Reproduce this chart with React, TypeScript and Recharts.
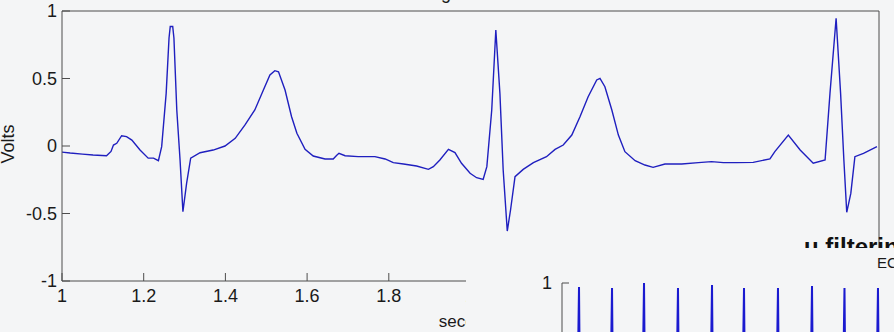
import React from 'react';
import { LineChart, Line, XAxis, YAxis } from 'recharts';

// ECG trace (seconds, volts)
const ecgTime = [
  1.0, 1.02, 1.05, 1.076, 1.109, 1.12, 1.126, 1.134, 1.146, 1.158, 1.171, 1.191, 1.211, 1.224, 1.236,
  1.244, 1.255, 1.262, 1.265, 1.271, 1.274, 1.281, 1.289, 1.296, 1.305, 1.315, 1.338, 1.37, 1.399,
  1.424, 1.448, 1.472, 1.493, 1.509, 1.521, 1.53, 1.546, 1.562, 1.575, 1.595, 1.615, 1.644, 1.664,
  1.672, 1.678, 1.693, 1.725, 1.766, 1.791, 1.811, 1.836, 1.868, 1.897, 1.909, 1.925, 1.946, 1.962,
  1.978, 1.999, 2.015, 2.031, 2.04, 2.052, 2.062, 2.072, 2.08, 2.09, 2.098, 2.109, 2.129, 2.154,
  2.186, 2.207, 2.227, 2.248, 2.268, 2.288, 2.309, 2.317, 2.329, 2.346, 2.362, 2.378, 2.403, 2.427,
  2.447, 2.476, 2.517, 2.558, 2.59, 2.619, 2.652, 2.692, 2.733, 2.745, 2.778, 2.807, 2.839, 2.868,
  2.88, 2.895, 2.906, 2.914, 2.921, 2.931, 2.941, 2.962, 2.995,
];
const ecgVolts = [
  -0.045, -0.052, -0.06, -0.067, -0.072, -0.04, 0.007, 0.02, 0.076, 0.069, 0.044, -0.03, -0.09, -0.09, -0.109,
  -0.005, 0.39, 0.8, 0.885, 0.885, 0.8, 0.267, -0.104, -0.487, -0.277, -0.09, -0.05, -0.03, 0.0,
  0.057, 0.156, 0.267, 0.415, 0.526, 0.558, 0.55, 0.415, 0.217, 0.094, -0.025, -0.074, -0.096, -0.096,
  -0.07, -0.054, -0.072, -0.079, -0.079, -0.096, -0.123, -0.133, -0.148, -0.173, -0.153, -0.104, -0.025, -0.049,
  -0.128, -0.202, -0.235, -0.247, -0.153, 0.267, 0.859, 0.39, -0.178, -0.63, -0.474, -0.227, -0.173, -0.123,
  -0.079, -0.025, 0.007, 0.081, 0.217, 0.365, 0.489, 0.501, 0.439, 0.267, 0.081, -0.042, -0.109, -0.141,
  -0.158, -0.133, -0.133, -0.123, -0.116, -0.123, -0.123, -0.121, -0.096, -0.042, 0.081, -0.03, -0.128, -0.104,
  0.39, 0.946, 0.39, -0.104, -0.491, -0.351, -0.079, -0.054, -0.005,
];
const xTicks = [1, 1.2, 1.4, 1.6, 1.8, 2, 2.2, 2.4, 2.6, 2.8, 3];
const yTicks = [-1, -0.5, 0, 0.5, 1];

// overlapping inset: R-peak spikes of a longer record (only tops are visible)
const insetTime = [
  0.39, 0.42, 0.45, 1.205, 1.235, 1.265, 1.995, 2.025, 2.055, 2.834, 2.864, 2.894, 3.674, 3.704, 3.734,
  4.464, 4.494, 4.524, 5.303, 5.333, 5.363, 6.143, 6.173, 6.203, 6.945, 6.975, 7.005, 7.772, 7.802, 7.832,
];
const insetVolts = [
  0.1, 0.96, -0.4, 0.1, 0.95, -0.4, 0.1, 1.0, -0.4, 0.1, 0.95, -0.4, 0.1, 0.98, -0.4,
  0.1, 0.95, -0.4, 0.1, 0.95, -0.4, 0.1, 0.97, -0.4, 0.1, 0.95, -0.4, 0.1, 0.95, -0.4,
];
const insetXTicks = [0, 2, 4, 6, 8, 10];
const insetYTicks = [-1, 0, 1];

const BG = '#f4f5f6';
const INK = '#1a1a1a';
const FRAME = '#4d4d4d';
const TRACE = '#1f1fbf';
const FONT = '"Liberation Sans", Arial, Helvetica, sans-serif';

const ecgData = ecgTime.map((t, i) => ({ t, v: ecgVolts[i] }));
const insetData = insetTime.map((t, i) => ({ t, v: insetVolts[i] }));

const tickStyle = { fill: INK, fontSize: 18, fontFamily: FONT };

export default function App() {
  return (
    <div
      style={{
        position: 'fixed',
        left: 0,
        top: 0,
        width: 894,
        height: 332,
        overflow: 'hidden',
        background: BG,
        fontFamily: FONT,
      }}
    >
      <div style={{ position: 'absolute', left: 0, top: 0 }}>
        <LineChart width={894} height={332} data={ecgData} margin={{ top: 0, right: 0, bottom: 0, left: 0 }}>
          <XAxis
            xAxisId="bottom"
            dataKey="t"
            type="number"
            domain={[1, 3]}
            ticks={xTicks}
            interval={0}
            allowDataOverflow
            height={51}
            tickSize={-8}
            tickMargin={16}
            stroke={FRAME}
            tick={tickStyle}
            label={({ viewBox }: any) => (
              <text
                x={viewBox.x + viewBox.width / 2}
                y={viewBox.y + 46}
                textAnchor="middle"
                fill={INK}
                fontSize={17}
                fontFamily={FONT}
              >
                seconds
              </text>
            )}
          />
          <XAxis
            xAxisId="top"
            orientation="top"
            dataKey="t"
            type="number"
            domain={[1, 3]}
            ticks={xTicks}
            interval={0}
            allowDataOverflow
            height={11}
            tickSize={-7}
            tick={false}
            stroke={FRAME}
            label={({ viewBox }: any) => (
              <text x={viewBox.x + 322} y={viewBox.y - 1} fill={INK} fontSize={18} fontFamily={FONT}>
                ECG signal
              </text>
            )}
          />
          <YAxis
            yAxisId="left"
            domain={[-1, 1]}
            ticks={yTicks}
            interval={0}
            allowDataOverflow
            width={62}
            tickSize={-8}
            tickMargin={13}
            stroke={FRAME}
            tick={tickStyle}
            label={({ viewBox }: any) => {
              const cx = viewBox.x + 14;
              const cy = viewBox.y + viewBox.height / 2 - 2;
              return (
                <text
                  x={cx}
                  y={cy}
                  transform={`rotate(-90 ${cx} ${cy})`}
                  textAnchor="middle"
                  fill={INK}
                  fontSize={18}
                  fontFamily={FONT}
                >
                  Volts
                </text>
              );
            }}
          />
          <YAxis
            yAxisId="right"
            orientation="right"
            domain={[-1, 1]}
            ticks={yTicks}
            interval={0}
            allowDataOverflow
            width={15}
            tickSize={-8}
            tick={false}
            stroke={FRAME}
          />
          <Line
            xAxisId="bottom"
            yAxisId="left"
            type="linear"
            dataKey="v"
            stroke={TRACE}
            strokeWidth={1.4}
            dot={false}
            isAnimationActive={false}
          />
        </LineChart>
      </div>

      {/* slide heading of the overlapping figure, mostly hidden */}
      <svg style={{ position: 'absolute', left: 0, top: 0 }} width={894} height={332}>
        <text x={804} y={255} fill="#111" fontSize={24} fontWeight="bold" fontFamily={FONT}>
          u filtering
        </text>
      </svg>

      <div
        style={{
          position: 'absolute',
          left: 466,
          top: 248,
          width: 428,
          height: 84,
          background: BG,
          overflow: 'hidden',
        }}
      >
        <svg style={{ position: 'absolute', left: 0, top: 0 }} width={428} height={84}>
          <text x={411} y={20} fill={INK} fontSize={15} fontFamily={FONT}>
            ECG signal
          </text>
        </svg>
        <div style={{ position: 'absolute', left: 54, top: 22 }}>
          <LineChart width={460} height={250} data={insetData} margin={{ top: 13, right: 13, bottom: 37, left: 0 }}>
            <XAxis
              xAxisId="top"
              orientation="top"
              dataKey="t"
              type="number"
              domain={[0, 10]}
              ticks={insetXTicks}
              interval={0}
              allowDataOverflow
              height={0}
              tickSize={-7}
              tick={false}
              stroke={FRAME}
            />
            <YAxis
              yAxisId="left"
              domain={[-1, 1]}
              ticks={insetYTicks}
              interval={0}
              allowDataOverflow
              width={42}
              tickSize={-7}
              tickMargin={17}
              stroke={FRAME}
              tick={tickStyle}
            />
            <Line
              xAxisId="top"
              yAxisId="left"
              type="linear"
              dataKey="v"
              stroke="#1a1ad0"
              strokeWidth={2}
              dot={false}
              isAnimationActive={false}
            />
          </LineChart>
        </div>
      </div>
    </div>
  );
}
